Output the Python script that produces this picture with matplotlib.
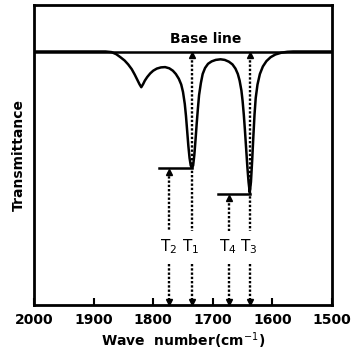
import matplotlib
matplotlib.use("Agg")
import matplotlib.pyplot as plt

# spectrum (wave number, transmittance)
wave = [2000, 1880, 1870, 1862, 1855, 1848, 1842, 1836, 1831, 1827, 1823, 1820,
        1817, 1814, 1810, 1805, 1800, 1794, 1787, 1780, 1773, 1767, 1762, 1757,
        1753, 1750, 1747, 1745, 1743, 1741, 1739, 1737, 1735, 1733, 1731, 1729,
        1727, 1725, 1723, 1720, 1717, 1713, 1708, 1702, 1695, 1687, 1680, 1673,
        1667, 1662, 1658, 1655, 1652, 1650, 1648, 1646, 1644, 1642, 1640, 1638,
        1636, 1634, 1632, 1630, 1628, 1625, 1621, 1616, 1610, 1603, 1595, 1585,
        1575, 1565, 1500]
trans = [84.5, 84.5, 84.3, 83.6, 82.6, 81.5, 80.2, 78.6, 76.8, 75.2, 73.6, 72.6,
         73.6, 74.8, 76.0, 77.2, 78.1, 78.8, 79.2, 79.3, 78.9, 78.1, 77.0, 75.4,
         73.5, 71.0, 67.0, 63.0, 58.0, 53.0, 49.0, 46.5, 45.7, 46.5, 50.0, 55.0,
         60.5, 65.5, 70.0, 74.0, 77.0, 79.0, 80.4, 81.2, 81.7, 81.9, 81.7, 81.1,
         80.2, 78.8, 77.0, 74.8, 71.5, 68.0, 63.5, 58.0, 52.0, 46.0, 41.0, 37.5,
         41.0, 48.0, 56.0, 63.5, 69.0, 73.5, 77.0, 79.5, 81.3, 82.6, 83.5, 84.1,
         84.4, 84.5, 84.5]

baseline = 84.5

# marker lines: label, position, top of arrow
t_labels = [r"$\mathrm{T}_2$", r"$\mathrm{T}_1$", r"$\mathrm{T}_4$", r"$\mathrm{T}_3$"]
t_pos = [1773, 1735, 1673, 1638]
t_top = [45.7, baseline, 37.0, baseline]

# horizontal levels at the two peak minima (from, to, level)
levels = [(1790, 1735, 45.7), (1691, 1638, 37.0)]

xticks = [2000, 1900, 1800, 1700, 1600, 1500]

fig = plt.figure(figsize=(3.57, 3.54), dpi=100)
ax = fig.add_axes([34 / 357, 49 / 354, 298 / 357, 300 / 354])

ax.axhline(baseline, color="black", lw=1.8)
ax.plot(wave, trans, color="black", lw=1.8, solid_joinstyle="round")

for x0, x1, lv in levels:
    ax.plot([x0, x1], [lv, lv], color="black", lw=1.8)

label_y = 19.3
gap = 5.5
dots = (0, (1, 0.8))
for lab, x, top in zip(t_labels, t_pos, t_top):
    ax.plot([x, x], [top - 1.5, label_y + gap], color="black", lw=1.7, ls=dots)
    ax.plot([x, x], [label_y - gap, 1.0], color="black", lw=1.7, ls=dots)
    ax.plot(x, top - 1.2, marker="^", color="black", ms=4)
    ax.plot(x, 1.0, marker="v", color="black", ms=4)
    ax.text(x + 2, label_y, lab, ha="center", va="center", fontsize=11)

ax.text(1712, 88.6, "Base line", ha="center", va="center", fontsize=10, fontweight="bold")

ax.set_xlim(2000, 1500)
ax.set_ylim(0, 100)
ax.set_xticks(xticks)
ax.set_xticklabels([str(v) for v in xticks], fontsize=10, fontweight="bold")
ax.tick_params(axis="x", direction="in", length=5, width=1.5, pad=6)
ax.set_yticks([])
for s in ax.spines.values():
    s.set_linewidth(2)

ax.set_xlabel("Wave  number(cm$^{-1}$)", fontsize=10, fontweight="bold", labelpad=2)
ax.set_ylabel("Transmittance", fontsize=10, fontweight="bold", labelpad=6)

fig.savefig("out.png", dpi=100)
